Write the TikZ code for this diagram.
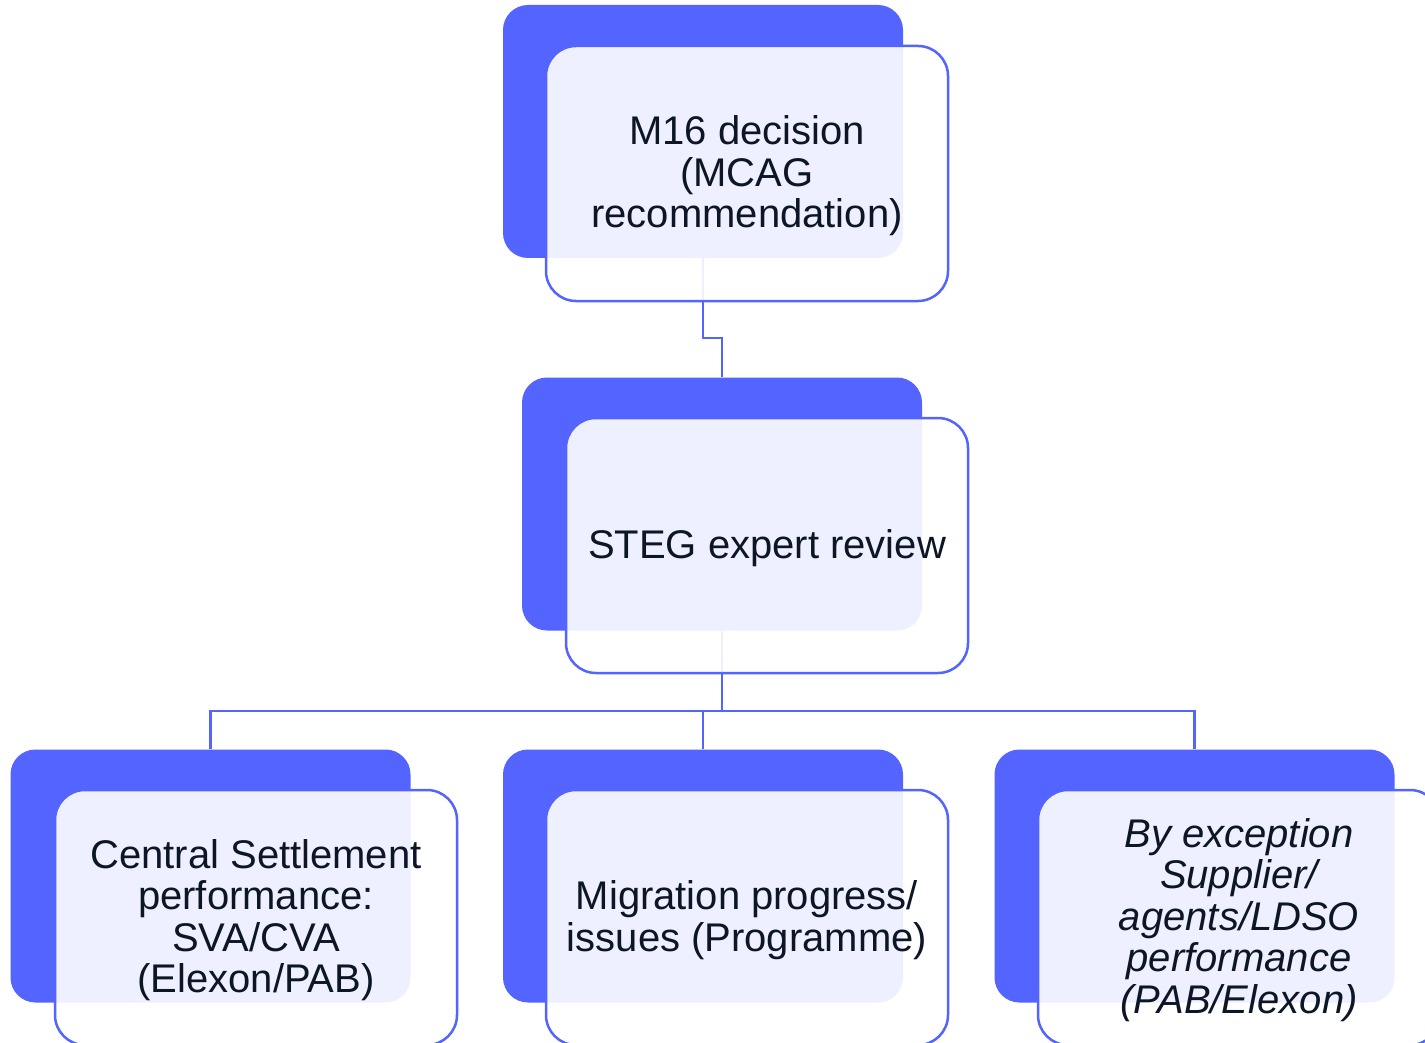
\documentclass[tikz,border=0pt]{standalone}
\usepackage{fontspec}
\setmainfont{Liberation Sans}
\definecolor{mblue}{RGB}{84,101,255}
\definecolor{mtext}{RGB}{12,22,38}
\newcommand{\mystrut}{\rule{0pt}{34pt}}
\pgfdeclarelayer{bg}
\pgfdeclarelayer{canvas}
\pgfsetlayers{canvas,bg,main}
\begin{document}
\begin{tikzpicture}[x=1pt,y=-1pt,
  backbox/.style={draw=none, fill=mblue, rounded corners=25pt, minimum width=400pt, minimum height=253pt, inner sep=0pt},
  frontbox/.style={draw=mblue, line width=2.5pt, fill=white, fill opacity=0.9, text opacity=1, rounded corners=30pt, minimum width=402pt, minimum height=255pt, align=center, text=mtext, font=\fontsize{40}{41.5}\selectfont, inner sep=0pt},
  link/.style={draw=mblue, line width=2.5pt}]
\clip (0,0) rectangle (1425,1043);
\begin{pgfonlayer}{canvas}
\fill[white] (0,0) rectangle (1425,1043);
\end{pgfonlayer}
% top
\node[backbox] (tb) at (703,131.5) {};
\node[frontbox] (tf) at (747,173.5) {\mystrut M16 decision\\(MCAG\\recommendation)};
% middle
\node[backbox] (mb) at (722,504) {};
\node[frontbox] (mf) at (767,545.5) {\mystrut STEG expert review};
% bottom
\node[backbox] (lb) at (210.5,876) {};
\node[frontbox] (lf) at (256,917.5) {\mystrut Central Settlement\\performance:\\SVA/CVA\\(Elexon/PAB)};
\node[backbox] (cb) at (703,876) {};
\node[frontbox] (cf) at (747,917.5) {\mystrut Migration progress/\\issues (Programme)};
\node[backbox] (rb) at (1194.5,876) {};
\node[frontbox, font=\fontsize{40}{41.5}\selectfont\itshape] (rf) at (1239,917.5) {\mystrut By exception\\Supplier/\\agents/LDSO\\performance\\(PAB/Elexon)};
% connectors
\coordinate (j1) at (712,338);
\coordinate (bus) at (722,711);
\begin{pgfonlayer}{bg}
\draw[link] (tb.south) |- (j1) -| (mb.north);
\draw[link] (mb.south) -- (bus);
\draw[link] (lb.north) |- (bus) -| (rb.north);
\draw[link] (cb.north) -- (cb.north |- bus);
\end{pgfonlayer}
\end{tikzpicture}
\end{document}
